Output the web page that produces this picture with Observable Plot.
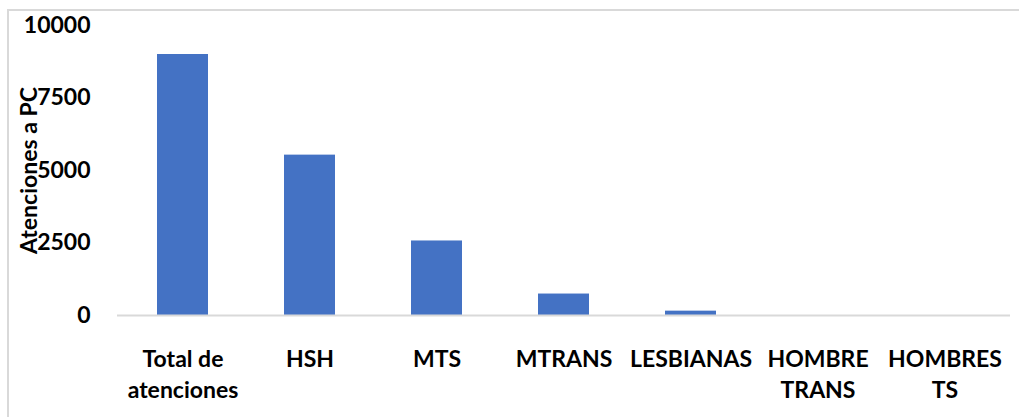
<!DOCTYPE html>
<html>
<head>
<meta charset="utf-8">
<script src="https://cdn.jsdelivr.net/npm/d3@7"></script>
<script src="https://cdn.jsdelivr.net/npm/@observablehq/plot@0.6"></script>
<style>
  html, body { margin: 0; padding: 0; background: #fff; }
  #wrap { position: relative; width: 1019px; height: 417px; overflow: hidden; }
  #frame { position: absolute; left: 7px; top: 9px; width: 1030px; height: 430px; border: 2px solid #d9d9d9; box-sizing: border-box; pointer-events: none; }
  #chart { position: absolute; left: 0; top: 0; }
</style>
</head>
<body>
<div id="wrap"><div id="frame"></div><div id="chart"></div></div>
<script>
const categories = ["Total de\natenciones", "HSH", "MTS", "MTRANS", "LESBIANAS", "HOMBRE\nTRANS", "HOMBRES\nTS"];
const values = [9000, 5530, 2570, 740, 150, 0, 0];
const yTicks = [0, 2500, 5000, 7500, 10000];
const yLabel = "Atenciones a PC";

const data = categories.map((c, i) => ({ cat: c, value: values[i] }));

const chart = Plot.plot({
  width: 1019,
  height: 417,
  marginLeft: 117,
  marginRight: 9,
  marginTop: 25,
  marginBottom: 102,
  style: { fontFamily: "Lato, sans-serif", fontWeight: "bold", fontSize: "23px", color: "#000", background: "transparent" },
  x: { domain: categories, paddingInner: 0.6, paddingOuter: 0.3, label: null },
  y: { domain: [0, 10000] },
  marks: [
    Plot.barY(data, { x: "cat", y: "value", fill: "#4472C4" }),
    Plot.ruleY([0], { stroke: "#d9d9d9", strokeWidth: 2 }),
    Plot.axisY({ ticks: yTicks, tickSize: 0, tickPadding: 27, tickFormat: d => String(d), label: yLabel, labelAnchor: "center", labelArrow: "none", labelOffset: 97, fontSize: 23 }),
    Plot.axisX({ tickSize: 0, tickPadding: 29, label: null, lineHeight: 1.35, fontSize: 23 })
  ]
});
document.getElementById("chart").appendChild(chart);
</script>
</body>
</html>
